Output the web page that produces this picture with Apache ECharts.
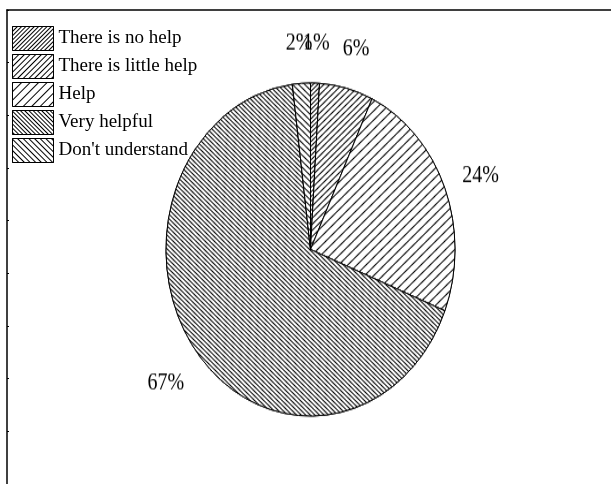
<!DOCTYPE html>
<html><head><meta charset="utf-8">
<script src="https://cdn.jsdelivr.net/npm/echarts@6/dist/echarts.min.js"></script>
<style>
html,body{margin:0;padding:0;background:#fff;overflow:hidden}
#pie,#frame{position:absolute;left:0;top:0;width:611px;height:484px}
#pie{transform:scaleY(1.1522);transform-origin:0 249.5px}
</style></head><body>
<div id="pie"></div><div id="frame"></div>
<script>
// ---- data ----
const categories = ['There is no help', 'There is little help', 'Help', 'Very helpful', "Don't understand"];
const values = [1, 6, 24, 67, 2];
const labelSuffix = '%';

// ---- styles (hatching) ----
const hatchDir = [-1, -1, -1, 1, 1];      // -1 = "/", 1 = "\"
const hatchPeriod = [3, 4, 6, 3, 4];
const SCALE_Y = 1.1522;
function hatch(i, ang) {
  return {
    symbol: 'rect', symbolSize: 1, symbolKeepAspect: false,
    color: '#000', backgroundColor: '#fff',
    dashArrayX: [1, 0], dashArrayY: [1, hatchPeriod[i] - 1],
    rotation: hatchDir[i] * ang
  };
}
const angA = Math.PI / 4;
const angB = Math.atan(1 / SCALE_Y);
const FONT = 'Liberation Serif';

const pieChart = echarts.init(document.getElementById('pie'), null, {renderer: 'canvas'});
const frameChart = echarts.init(document.getElementById('frame'), null, {renderer: 'canvas'});

const center = [310.5, 249.5];
pieChart.setOption({
  animation: false,
  backgroundColor: 'transparent',
  series: [
    {
      type: 'pie', center: center, radius: 144.5, silent: true,
      itemStyle: {color: '#fff', borderColor: '#000', borderWidth: 1},
      label: {show: false}, labelLine: {show: false},
      data: categories.map((n, i) => ({name: n, value: values[i], itemStyle: {decal: hatch(i, angB)}}))
    },
    {
      type: 'pie', center: center, radius: [0, 360], silent: true,
      avoidLabelOverlap: false,
      labelLayout: {hideOverlap: false},
      itemStyle: {color: 'transparent', borderWidth: 0},
      label: {show: true, position: 'inside', formatter: '{c}' + labelSuffix, overflow: 'none',
        offset: [0, 4],
        fontFamily: FONT, fontSize: 20, color: '#000'},
      labelLine: {show: false},
      data: categories.map((n, i) => ({name: n, value: values[i]}))
    }
  ]
});

frameChart.setOption({
  animation: false,
  backgroundColor: 'transparent',
  grid: {left: 7, top: 10, right: -2, bottom: -5},
  xAxis: {type: 'value', position: 'top', min: 0, max: 1,
    axisLine: {show: true, lineStyle: {color: '#000', width: 1.5}},
    axisTick: {show: false}, axisLabel: {show: false}, splitLine: {show: false}},
  yAxis: {type: 'value', min: 0, max: 9, interval: 1, inverse: true,
    axisLine: {show: true, lineStyle: {color: '#000', width: 1.5}},
    axisTick: {show: true, inside: true, length: 2, lineStyle: {color: '#000'}},
    axisLabel: {show: false}, splitLine: {show: false}},
  legend: {
    orient: 'vertical', left: 12, top: 26, padding: 0,
    itemWidth: 41, itemHeight: 24, itemGap: 3, icon: 'rect', selectedMode: false,
    textStyle: {fontFamily: FONT, fontSize: 19, color: '#000'},
    itemStyle: {borderColor: '#000', borderWidth: 1},
    data: categories
  },
  series: [{
    type: 'pie', center: [-200, -200], radius: 0, silent: true,
    itemStyle: {color: '#fff', borderColor: '#000', borderWidth: 1},
    label: {show: false}, labelLine: {show: false},
    data: categories.map((n, i) => ({name: n, value: values[i], itemStyle: {decal: hatch(i, angA)}}))
  }]
});
</script>
</body></html>
